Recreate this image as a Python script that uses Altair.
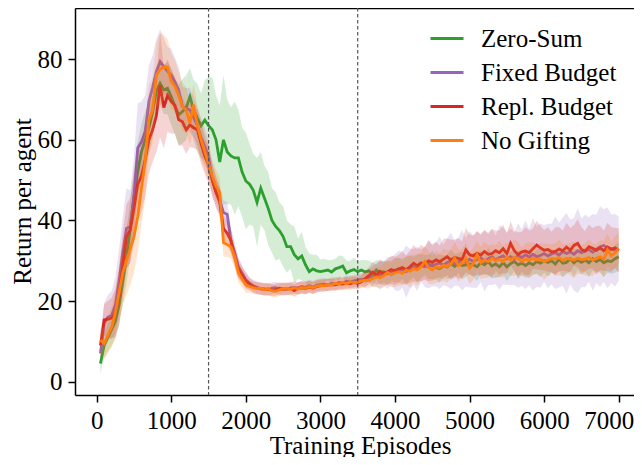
import altair as alt
import pandas as pd

FONT = "Liberation Serif"

episodes = list(range(50, 7001, 50))
series_names = ["Zero-Sum", "Fixed Budget", "Repl. Budget", "No Gifting"]
series_colors = ["#2ca02c", "#9467bd", "#d62728", "#ff7f0e"]
phase_lines = [1500, 3500]
x_ticks = [0, 1000, 2000, 3000, 4000, 5000, 6000, 7000]
y_ticks = [0, 20, 40, 60, 80]

zero_sum = [
    4.5, 9, 11, 13, 15, 19, 25, 31, 38, 46,
    52, 57, 60, 63, 67, 72, 74, 72.4, 72.8, 70.7,
    68.2, 66.2, 67, 68, 70.7, 67.4, 65.4, 63.5, 64.9, 63.5,
    62.5, 60, 54.5, 60, 57, 56, 55.5, 55.5, 52, 49.8,
    49, 47.5, 44.5, 48, 45.5, 43, 40, 38.5, 37.5, 36,
    33.5, 33.5, 31.5, 30.5, 31.2, 29, 27.3, 28, 27.5, 27.3,
    27.5, 27.7, 27.2, 28, 28.3, 28.7, 27, 27.5, 27.8, 27.3,
    27.7, 27.2, 27.5, 26.5, 27.7, 27, 27.3, 26.8, 27.5, 27.7,
    27.7, 28, 27.5, 28.2, 28.5, 28, 28.7, 29, 28.5, 29,
    28.3, 28.1, 28.8, 28.5, 29.3, 28.6, 29.5, 28.8, 29, 29.2,
    29, 28.5, 29.5, 29, 29.8, 28.7, 29.2, 28.5, 29.5, 28.5,
    29.3, 29.8, 29, 29.4, 28.8, 29.5, 29, 29.8, 29.4, 30,
    29.6, 30, 29.2, 30.4, 29.4, 29.6, 30.5, 29.5, 30.2, 29.6,
    30.2, 29.5, 30.5, 29.8, 30.3, 29.5, 30, 29.8, 30.5, 31,
]
zero_sum_spread = [
    2.5, 3, 3.5, 4, 4.5, 5, 6, 6.5, 7, 7,
    7.5, 7, 7, 6.5, 6, 6, 5.5, 6, 6.5, 7,
    7, 7.5, 8, 8, 7, 7.5, 8.5, 8, 10, 12,
    13, 11, 14, 16, 13, 12, 14, 12, 11, 12,
    10, 9, 11, 9, 8, 9, 8, 8.5, 7, 7.5,
    6.5, 5.5, 7, 5, 6, 4.5, 4.5, 3.5, 4, 3,
    3, 2.5, 3, 2.5, 3, 2.5, 3, 2.5, 3, 2.5,
    2.5, 3, 2.5, 3, 2.5, 3, 2.5, 3, 2.5, 3,
    3, 2.5, 3.5, 3, 2.5, 3.5, 3, 2.5, 3, 3.5,
    3, 3.5, 2.5, 3, 3.5, 3, 2.5, 3.5, 3, 2.5,
    3, 3.5, 3, 2.5, 3.5, 3, 3.5, 2.5, 3, 3.5,
    3, 2.5, 3.5, 3, 3, 3.5, 2.5, 3, 3.5, 3,
    3.5, 3, 2.5, 3, 3.5, 3, 3, 3.5, 2.5, 3,
    3, 3.5, 3, 2.5, 3, 3.5, 3, 3, 3.5, 3.5,
]

fixed_budget = [
    7, 14.5, 16, 16.5, 19, 25, 32, 38, 38.5, 46,
    58, 59.5, 62, 69.5, 73, 77, 79.4, 78.2, 77, 76,
    74.4, 72.4, 68.2, 67.8, 67.4, 65.5, 63.5, 60.5, 58.3, 55.8,
    50, 47, 45, 42, 41.5, 35, 32, 28.5, 26.9, 25.3,
    24.4, 23.8, 23.4, 23.1, 23, 22.8, 23.2, 23.3, 22.9, 23.1,
    23, 23.3, 23.4, 23.2, 23.6, 23.4, 23.8, 23.5, 23.9, 24.1,
    24.2, 24, 24.4, 24.3, 24.6, 24.5, 24.9, 24.7, 25, 25.2,
    25.4, 25.3, 25.9, 26.1, 26.5, 26.3, 26.9, 27, 27.4, 27.2,
    27.5, 27.8, 27.3, 28, 28.4, 28, 28.8, 28.5, 29.2, 28.7,
    29.1, 29.5, 28.9, 29.6, 30, 29.3, 29.8, 30.2, 29.6, 30.4,
    29.8, 30.3, 30.7, 29.9, 30.5, 31, 30.2, 30.8, 31.2, 30.5,
    31, 30.4, 31.3, 30.8, 31.5, 30.9, 31.6, 31, 31.3, 31.8,
    31.2, 31.7, 32, 31.4, 32.3, 31.8, 32.2, 31.6, 32.5, 32,
    32.4, 32.8, 32.1, 32.9, 33.5, 33.8, 33.2, 33, 32.6, 33,
]
fixed_budget_spread = [
    3, 5, 5.5, 6, 7, 8, 9, 10, 9, 10,
    11, 10, 9, 9, 8, 8, 8, 7, 6, 6.5,
    6, 5.5, 5, 5, 5.5, 5, 4.5, 5, 4.5, 4,
    4, 3.5, 3.5, 3, 3, 3, 2.5, 2.5, 2, 2,
    1.5, 1.5, 1.5, 1.5, 1.5, 1.5, 1.5, 1.5, 1.5, 1.5,
    1.5, 1.5, 1.5, 1.5, 1.5, 1.5, 1.5, 1.5, 1.5, 1.5,
    1.5, 1.5, 1.5, 1.5, 1.5, 1.5, 1.5, 1.5, 1.5, 1.5,
    1.5, 2, 2, 2.5, 3, 3.5, 3, 4, 3.5, 4.5,
    5, 4.5, 6.5, 5, 4.5, 5.5, 4, 5, 6, 5,
    5.5, 6.5, 5, 6, 7, 5.5, 6, 7.5, 6, 7,
    6.5, 7, 6, 7.5, 6.5, 7, 6, 8, 7, 6.5,
    7, 6.5, 8, 7, 8.5, 7, 9, 7.5, 8, 7,
    8, 7.5, 9, 8, 8.5, 10, 8, 9, 10.5, 8.5,
    9, 8, 9.5, 8.5, 10, 9, 10, 8.5, 9, 8,
]

repl_budget = [
    9, 15.3, 15.5, 15.8, 17, 21, 29, 36, 37.6, 43,
    49, 51, 55, 60, 62.5, 66, 73.5, 68, 71, 69.5,
    68.5, 65, 64.5, 62.5, 63.7, 63, 62.5, 59, 56, 53.8,
    50, 47, 44.5, 38, 36.8, 35, 31, 28, 26.5, 25,
    24.2, 23.5, 23.2, 23, 22.9, 23, 22.7, 22.8, 23.2, 22.9,
    23, 23.1, 22.6, 23.2, 23.3, 23.1, 23.5, 23.2, 23.6, 23.8,
    23.9, 24, 24.1, 24, 24.3, 24.2, 24.5, 24.3, 24.6, 24.4,
    24.8, 25.6, 26.3, 27.2, 26.5, 27.4, 26.8, 27.3, 27.8, 27.5,
    28, 28.3, 27.8, 28.5, 29.4, 28.8, 29.5, 29.2, 30, 29.6,
    30.2, 29.8, 30.4, 31, 30.2, 30.8, 30.6, 30.3, 32.7, 31.5,
    31.2, 31.9, 31.4, 32.3, 31.6, 31.8, 32.5, 32, 33, 31.8,
    34.3, 32.5, 31.5, 32.2, 32.4, 32, 33, 33.9, 33.2, 32.6,
    32.8, 32.2, 32.3, 32.9, 32.5, 33.4, 32.6, 33.8, 34.3, 32.8,
    32.4, 33.5, 33.1, 32.6, 33.2, 32.5, 33.4, 32.8, 33.2, 32.5,
]
repl_budget_spread = [
    3, 4, 4.5, 5, 6, 7, 8, 8, 8, 8.5,
    9, 9, 9, 8.5, 8, 9, 13, 10, 9, 8,
    7, 6.5, 6, 6, 5.5, 5, 5, 5, 4.5, 4.5,
    4, 4, 3.5, 3.5, 3, 3, 2.5, 2.5, 2, 2,
    1.5, 1.5, 1.5, 1.5, 1.5, 1.5, 1.5, 1.5, 1.5, 1.5,
    1.5, 1.5, 1.5, 1.5, 1.5, 1.5, 1.5, 1.5, 1.5, 1.5,
    1.5, 1.5, 1.5, 1.5, 1.5, 1.5, 1.5, 1.5, 1.5, 1.5,
    1.5, 2, 2, 2.5, 2.5, 3, 3, 3, 3.5, 3.5,
    3.5, 4, 3.5, 4, 4.5, 4, 4.5, 4, 5, 4.5,
    4.5, 4, 5, 4.5, 5, 4.5, 5, 4.5, 5.5, 5,
    5, 5.5, 5, 5.5, 5, 6, 5, 5.5, 6, 5,
    5.5, 5, 5.5, 5, 6, 5.5, 5, 6, 5.5, 5,
    5.5, 5, 6, 5.5, 5, 6, 5.5, 5, 6, 5.5,
    5, 5.5, 5, 6, 5.5, 5, 6, 5.5, 5, 5.5,
]

no_gifting = [
    10.3, 9.5, 11.5, 13.5, 17, 22, 27, 30, 33, 36,
    41, 48, 54.5, 65, 67.4, 76, 77.5, 78, 78, 74.5,
    73.2, 71, 68.2, 67.4, 64.1, 68.7, 63.5, 60, 57, 54,
    51, 48.5, 47, 34.5, 34, 33.5, 31, 27, 25.5, 24,
    23.6, 23.3, 23.1, 23.2, 22.8, 23, 22.6, 22.4, 22.8, 23,
    23.2, 22.9, 23.3, 23, 23.4, 23.2, 23.6, 23.3, 23.7, 23.9,
    23.8, 24.1, 24, 24.4, 24.2, 24.6, 24.3, 24.8, 24.6, 24.7,
    25, 25.2, 25.1, 25.6, 26, 25.8, 26.3, 27.1, 26.5, 27,
    27.3, 26.9, 27.7, 27.4, 28, 27.8, 28.5, 29.8, 28.3, 27.7,
    28.5, 28.3, 28.9, 28.6, 29.2, 30.6, 28.8, 29.4, 30.6, 28.2,
    29.3, 31.5, 29.5, 30.2, 29.8, 30.6, 30, 30.4, 29.8, 31,
    30.2, 30.8, 30.6, 29.8, 30.4, 30.1, 30.6, 30.2, 30.4, 29.8,
    30.2, 30.6, 30.4, 30.8, 30.1, 30.6, 30.4, 30.2, 30.7, 30.3,
    30.4, 30.8, 30.2, 30.6, 31, 30.4, 32.7, 31.2, 32, 33,
]
no_gifting_spread = [
    3, 4, 4.5, 5, 6, 7, 8, 8.5, 9, 9,
    9, 9, 9, 8.5, 8, 8, 9, 8, 7, 7,
    6.5, 6, 6, 5.5, 5.5, 5, 5, 5, 4.5, 4.5,
    4, 4, 3.5, 3.5, 3, 3, 2.5, 2.5, 2, 2,
    1.5, 1.5, 1.5, 1.5, 1.5, 1.5, 1.5, 1.5, 1.5, 1.5,
    1.5, 1.5, 1.5, 1.5, 1.5, 1.5, 1.5, 1.5, 1.5, 1.5,
    1.5, 1.5, 1.5, 1.5, 1.5, 1.5, 1.5, 1.5, 1.5, 1.5,
    1.5, 2, 2, 2, 2.5, 2.5, 3, 3, 3, 3.5,
    3.5, 3, 3.5, 4, 3.5, 4, 3.5, 4, 4, 3.5,
    4, 3.5, 4, 4, 3.5, 4, 4, 3.5, 4, 4,
    4, 3.5, 4, 4.5, 4, 3.5, 4, 4.5, 4, 3.5,
    4, 4.5, 4, 3.5, 4, 4.5, 4, 3.5, 4, 4.5,
    4, 3.5, 4, 4.5, 4, 3.5, 4, 4.5, 4, 3.5,
    4, 4.5, 4, 3.5, 4, 4.5, 4, 3.5, 4, 4,
]

means = [zero_sum, fixed_budget, repl_budget, no_gifting]
spreads = [zero_sum_spread, fixed_budget_spread, repl_budget_spread, no_gifting_spread]

rows = []
for name, m_list, s_list in zip(series_names, means, spreads):
    for x, m, s in zip(episodes, m_list, s_list):
        rows.append({"x": x, "series": name, "mean": m, "lo": m - s, "hi": m + s})
df = pd.DataFrame(rows)
vdf = pd.DataFrame({"x": phase_lines})

W, H = 559, 387
x_scale = alt.Scale(domain=[-291, 7205], nice=False, zero=False)
y_scale = alt.Scale(domain=[-3.3, 92.7], nice=False, zero=False)
stroke_scale = alt.Scale(domain=series_names, range=series_colors)

x_axis = alt.Axis(
    values=x_ticks, format="d", title="Training Episodes", grid=False,
    labelFont=FONT, labelFontSize=25, titleFont=FONT, titleFontSize=25,
    titleFontWeight="normal", labelColor="black", titleColor="black",
    domainColor="black", domainWidth=1.5, tickColor="black", tickWidth=1.5,
    tickSize=7, labelPadding=6,
    labelOffset={"condition": {"test": "datum.value == 7000", "value": -10}, "value": 0},
    titleX=285, titleY=58, titleBaseline="alphabetic", titleAlign="center",
)
y_axis = alt.Axis(
    values=y_ticks, title="Return per agent", grid=False,
    labelFont=FONT, labelFontSize=25, titleFont=FONT, titleFontSize=25,
    titleFontWeight="normal", labelColor="black", titleColor="black",
    domainColor="black", domainWidth=1.5, tickColor="black", tickWidth=1.5,
    tickSize=7, labelPadding=6,
    titleX=-45, titleY=193, titleBaseline="alphabetic", titleAlign="center",
    titleAngle=270,
)
top_axis = alt.Axis(
    orient="top", labels=False, ticks=False, title=None, grid=False,
    domainColor="black", domainWidth=1.5,
)
legend = alt.Legend(
    title=None, orient="none", legendX=354, legendY=12.5, padding=0,
    symbolType="stroke", symbolSize=1089, symbolStrokeWidth=3,
    labelFont=FONT, labelFontSize=25, labelColor="black",
    labelOffset=16, rowPadding=3, symbolOpacity=1,
)

layers = []
for i, (name, col) in enumerate(zip(series_names, series_colors)):
    base = alt.Chart(df).transform_filter(alt.datum.series == name)
    band = base.mark_area(opacity=0.2, color=col, interpolate="linear").encode(
        x=alt.X("x:Q", scale=x_scale, axis=x_axis if i == 0 else None),
        y=alt.Y("lo:Q", scale=y_scale, axis=y_axis),
        y2="hi:Q",
    )
    line = base.mark_line(strokeWidth=2.8).encode(
        x=alt.X("x:Q", scale=x_scale, axis=None),
        y=alt.Y("mean:Q", scale=y_scale, axis=y_axis),
        stroke=alt.Stroke("series:N", scale=stroke_scale, legend=legend),
    )
    layers += [band, line]

vlines = alt.Chart(vdf).mark_rule(
    color="#555555", strokeWidth=1.2, strokeDash=[3.5, 2.5]
).encode(x=alt.X("x:Q", scale=x_scale, axis=top_axis))
layers.append(vlines)

chart = (
    alt.layer(*layers)
    .resolve_axis(x="independent")
    .properties(
        width=W, height=H,
        autosize=alt.AutoSizeParams(type="none"),
        padding={"left": 67, "top": 0, "right": 0, "bottom": 62},
    )
    .configure_view(stroke=None)
)

chart.save("out.html", embed_options={"renderer": "svg", "actions": False})
